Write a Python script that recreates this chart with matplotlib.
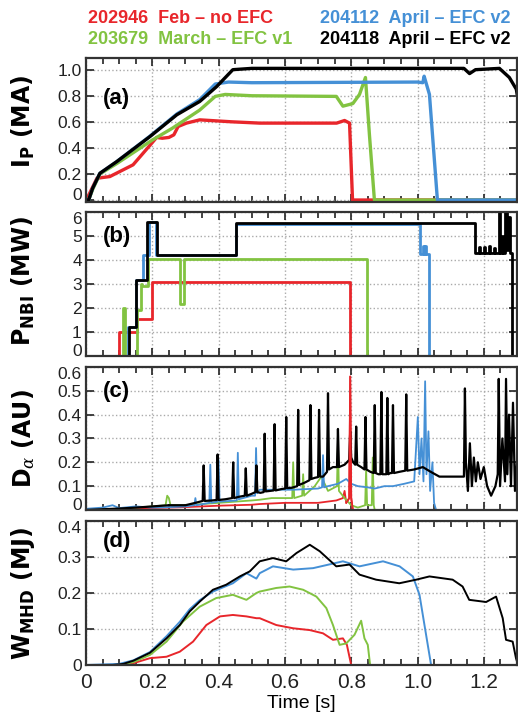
import matplotlib
matplotlib.use('Agg')
import matplotlib.pyplot as plt
from matplotlib.ticker import MultipleLocator

# --- fonts ---
plt.rcParams['font.family'] = ['Liberation Sans', 'DejaVu Sans']
plt.rcParams['mathtext.fontset'] = 'custom'
plt.rcParams['mathtext.rm'] = 'DejaVu Sans:bold'
plt.rcParams['mathtext.bf'] = 'DejaVu Sans:bold'
plt.rcParams['mathtext.it'] = 'DejaVu Serif:italic'

# --- colours / shots ---
RED, GREEN, BLUE, BLACK = '#e8262b', '#82c341', '#4590d6', '#000000'
legend_left = [('202946  Feb \u2013 no EFC', RED), ('203679  March \u2013 EFC v1', GREEN)]
legend_right = [('204112  April \u2013 EFC v2', BLUE), ('204118  April \u2013 EFC v2', BLACK)]

# --- (a) plasma current ---
ip_red_t = [0, 0.006, 0.033, 0.072, 0.142, 0.193, 0.213, 0.23, 0.25, 0.265, 0.278, 0.303, 0.343, 0.44, 0.524, 0.756, 0.78, 0.795, 0.804, 1.3]
ip_red = [0, 0.026, 0.167, 0.18, 0.27, 0.42, 0.48, 0.474, 0.48, 0.50, 0.564, 0.59, 0.615, 0.60, 0.59, 0.59, 0.61, 0.59, 0.0, 0.0]
ip_green_t = [0, 0.008, 0.02, 0.042, 0.093, 0.2, 0.26, 0.343, 0.39, 0.42, 0.5, 0.755, 0.775, 0.805, 0.825, 0.843, 0.855, 0.87, 1.3]
ip_green = [0, 0.0, 0.08, 0.2, 0.28, 0.46, 0.55, 0.69, 0.795, 0.81, 0.80, 0.795, 0.72, 0.74, 0.81, 0.94, 0.5, 0.0, 0.0]
ip_blue_t = [0, 0.008, 0.02, 0.042, 0.093, 0.193, 0.274, 0.343, 0.39, 0.43, 0.5, 1.0, 1.016, 1.02, 1.036, 1.06, 1.3]
ip_blue = [0, 0.0, 0.09, 0.205, 0.295, 0.49, 0.66, 0.77, 0.89, 0.905, 0.90, 0.905, 0.90, 0.95, 0.81, 0.0, 0.0]
ip_black_t = [0, 0.008, 0.02, 0.042, 0.093, 0.193, 0.274, 0.343, 0.394, 0.443, 0.5, 0.8, 1.14, 1.157, 1.175, 1.247, 1.277, 1.298, 1.3]
ip_black = [0, 0.0, 0.09, 0.205, 0.295, 0.487, 0.654, 0.756, 0.87, 1.0, 1.01, 1.01, 1.01, 0.97, 1.0, 1.01, 0.94, 0.85, 0.82]

# --- (b) NBI power (steps) ---
nbi_red_t = [0, 0.100, 0.155, 0.200, 0.795, 1.3]
nbi_red = [0, 1.0, 1.53, 3.1, 0, 0]
nbi_green_t = [0, 0.112, 0.118, 0.155, 0.165, 0.170, 0.188, 0.283, 0.295, 0.847, 1.3]
nbi_green = [0, 2.0, 0, 1.9, 3.0, 2.9, 4.05, 2.15, 4.05, 0, 0]
nbi_blue_t = [0, 0.127, 0.150, 0.172, 0.191, 0.211, 0.452, 1.008, 1.016, 1.019, 1.024, 1.027, 1.036, 1.3]
nbi_blue = [0, 1.2, 3.17, 4.2, 5.6, 4.2, 5.5, 4.25, 4.6, 4.25, 4.6, 4.25, 0, 0]
nbi_black_t = [0, 0.130, 0.150, 0.185, 0.213, 0.452, 1.172, 1.185, 1.188, 1.200, 1.203, 1.215, 1.218, 1.230,
               1.233, 1.245, 1.249, 1.256, 1.259, 1.265, 1.269, 1.274, 1.278, 1.285, 1.3]
nbi_black = [0, 1.2, 3.15, 5.6, 4.2, 5.55, 4.3, 4.55, 4.3, 4.55, 4.3, 4.6, 4.3, 4.5,
             4.3, 6.0, 4.3, 5.0, 4.3, 6.0, 4.4, 5.8, 4.3, 0, 0]

# --- (c) D-alpha ---
da_red_t = [0, 0.1, 0.2, 0.3, 0.4, 0.5, 0.524, 0.6, 0.7, 0.755, 0.775, 0.78, 0.785, 0.794, 0.797, 0.80, 0.805, 1.3]
da_red = [0, 0.005, 0.008, 0.012, 0.018, 0.022, 0.025, 0.03, 0.03, 0.04, 0.05, 0.08, 0.03, 0.05, 0.56, 0.05, 0.0, 0.0]
da_green_t = [0, 0.1, 0.15, 0.2, 0.24, 0.245, 0.25, 0.255, 0.3, 0.35, 0.4, 0.45, 0.5, 0.524, 0.56, 0.6, 0.622,
              0.625, 0.628, 0.652, 0.655, 0.658, 0.69, 0.71, 0.73, 0.757, 0.76, 0.763, 0.78, 0.8, 0.82, 0.842,
              0.845, 0.848, 0.862, 0.865, 0.868, 0.871, 1.3]
da_green = [0, 0.005, 0.01, 0.015, 0.02, 0.06, 0.05, 0.02, 0.02, 0.025, 0.03, 0.035, 0.04, 0.043, 0.05, 0.05, 0.05,
            0.2, 0.05, 0.06, 0.15, 0.06, 0.1, 0.14, 0.08, 0.1, 0.28, 0.08, 0.05, 0.02, 0.01, 0.02,
            0.17, 0.02, 0.02, 0.22, 0.02, 0.0, 0.0]
da_blue_t = [0, 0.05, 0.08, 0.1, 0.15, 0.2, 0.25, 0.3, 0.327, 0.33, 0.333, 0.372, 0.375, 0.378, 0.397, 0.40, 0.403,
             0.455, 0.458, 0.461, 0.5, 0.51, 0.513, 0.516, 0.524, 0.58, 0.625, 0.70, 0.712, 0.715, 0.718, 0.73,
             0.76, 0.785, 0.8, 0.82, 0.85, 0.871, 0.9, 0.926, 0.96, 0.99, 1.001, 1.006, 1.012, 1.018, 1.023,
             1.027, 1.033, 1.038, 1.045, 1.05, 1.056, 1.3]
da_blue = [0.005, 0.01, 0.02, 0.008, 0.015, 0.01, 0.012, 0.015, 0.02, 0.05, 0.02, 0.03, 0.19, 0.03, 0.035, 0.21, 0.035,
           0.04, 0.24, 0.045, 0.06, 0.06, 0.26, 0.07, 0.085, 0.085, 0.085, 0.09, 0.095, 0.23, 0.095, 0.1,
           0.11, 0.13, 0.11, 0.1, 0.095, 0.09, 0.1, 0.1, 0.11, 0.12, 0.39, 0.15, 0.3, 0.12, 0.54,
           0.15, 0.33, 0.08, 0.2, 0.03, 0.0, 0.0]
da_black_t = [0.0, 0.05, 0.1, 0.15, 0.2, 0.25, 0.3, 0.33, 0.352, 0.355, 0.358, 0.38, 0.394, 0.397, 0.40, 0.42,
              0.441, 0.444, 0.447, 0.46, 0.479, 0.482, 0.485, 0.50, 0.511, 0.514, 0.517, 0.526, 0.536, 0.539,
              0.542, 0.555, 0.566, 0.569, 0.572, 0.59, 0.601, 0.604, 0.607, 0.62, 0.637, 0.64, 0.643, 0.66,
              0.674, 0.677, 0.68, 0.69, 0.700, 0.703, 0.706, 0.715, 0.727, 0.73, 0.733, 0.745, 0.757, 0.76,
              0.763, 0.78, 0.794, 0.797, 0.80, 0.806, 0.812, 0.815, 0.818, 0.83, 0.840, 0.843, 0.846, 0.858,
              0.868, 0.871, 0.874, 0.882, 0.888, 0.891, 0.894, 0.90, 0.906, 0.909, 0.912, 0.918, 0.923, 0.926,
              0.929, 0.945, 0.963, 0.966, 0.969, 0.99, 1.016, 1.04, 1.066, 1.1, 1.126, 1.14, 1.143, 1.146,
              1.152, 1.158, 1.164, 1.17, 1.176, 1.182, 1.19, 1.2, 1.21, 1.222, 1.235, 1.242, 1.245, 1.249,
              1.256, 1.264, 1.267, 1.271, 1.276, 1.282, 1.288, 1.294, 1.3]
da_black = [0.0, 0.003, 0.006, 0.01, 0.015, 0.02, 0.02, 0.03, 0.038, 0.187, 0.038, 0.04, 0.042, 0.233, 0.042, 0.045,
            0.05, 0.2, 0.05, 0.055, 0.06, 0.175, 0.06, 0.068, 0.075, 0.187, 0.075, 0.072, 0.075, 0.32,
            0.078, 0.08, 0.082, 0.36, 0.082, 0.088, 0.09, 0.39, 0.092, 0.093, 0.1, 0.42, 0.105, 0.115,
            0.125, 0.44, 0.13, 0.135, 0.138, 0.42, 0.14, 0.14, 0.16, 0.49, 0.17, 0.18, 0.18, 0.34,
            0.18, 0.19, 0.21, 0.33, 0.22, 0.2, 0.19, 0.35, 0.19, 0.18, 0.17, 0.39, 0.17, 0.16,
            0.155, 0.44, 0.155, 0.15, 0.15, 0.495, 0.15, 0.15, 0.15, 0.47, 0.15, 0.155, 0.155, 0.44,
            0.155, 0.16, 0.165, 0.485, 0.165, 0.17, 0.18, 0.16, 0.14, 0.14, 0.14, 0.14, 0.51, 0.2,
            0.08, 0.28, 0.1, 0.22, 0.12, 0.2, 0.13, 0.18, 0.1, 0.06, 0.1, 0.15, 0.55, 0.1,
            0.3, 0.12, 0.55, 0.15, 0.4, 0.1, 0.45, 0.08, 0.2]

# --- (d) stored energy ---
w_red_t = [0, 0.12, 0.143, 0.193, 0.243, 0.283, 0.323, 0.363, 0.404, 0.443, 0.484, 0.514, 0.524, 0.574, 0.625,
           0.675, 0.715, 0.745, 0.775, 0.787, 0.8]
w_red = [0, 0.0, 0.005, 0.019, 0.023, 0.037, 0.065, 0.111, 0.135, 0.139, 0.135, 0.13, 0.13, 0.111, 0.102,
         0.097, 0.088, 0.07, 0.074, 0.056, 0.0]
w_green_t = [0, 0.1, 0.143, 0.193, 0.243, 0.293, 0.343, 0.393, 0.443, 0.484, 0.514, 0.524, 0.574, 0.614, 0.655,
             0.695, 0.725, 0.745, 0.765, 0.785, 0.81, 0.83, 0.84, 0.85, 0.857]
w_green = [0, 0.0, 0.008, 0.028, 0.065, 0.121, 0.162, 0.186, 0.195, 0.181, 0.2, 0.204, 0.214, 0.218, 0.209,
           0.19, 0.158, 0.111, 0.056, 0.06, 0.084, 0.123, 0.074, 0.056, 0.0]
w_blue_t = [0, 0.1, 0.143, 0.193, 0.243, 0.283, 0.313, 0.343, 0.383, 0.443, 0.484, 0.514, 0.524, 0.564, 0.625,
            0.685, 0.775, 0.825, 0.896, 0.946, 0.986, 1.006, 1.021, 1.041]
w_blue = [0, 0.003, 0.013, 0.036, 0.08, 0.12, 0.155, 0.18, 0.204, 0.227, 0.255, 0.24, 0.255, 0.274, 0.265,
          0.269, 0.288, 0.274, 0.288, 0.274, 0.246, 0.195, 0.111, 0.0]
w_black_t = [0, 0.08, 0.112, 0.143, 0.193, 0.243, 0.283, 0.313, 0.343, 0.383, 0.423, 0.464, 0.494, 0.524, 0.564,
             0.604, 0.635, 0.675, 0.705, 0.755, 0.795, 0.825, 0.875, 0.945, 0.996, 1.036, 1.106, 1.136, 1.156,
             1.207, 1.237, 1.257, 1.267, 1.287, 1.297, 1.3]
w_black = [0, 0.0, 0.003, 0.012, 0.034, 0.074, 0.111, 0.149, 0.176, 0.209, 0.223, 0.246, 0.26, 0.288, 0.297,
           0.288, 0.311, 0.334, 0.316, 0.274, 0.279, 0.251, 0.237, 0.227, 0.237, 0.246, 0.237, 0.218, 0.181,
           0.175, 0.19, 0.13, 0.07, 0.065, 0.019, 0.01]

# --- axes text ---
ylabels = [r'$\mathbf{I_P}$ (MA)', r'$\mathbf{P_{NBI}}$ (MW)', r'$\mathbf{D}_{\alpha}$ (AU)', r'$\mathbf{W_{MHD}}$ (MJ)']
letters = ['(a)', '(b)', '(c)', '(d)']
x_ticks = [0, 0.2, 0.4, 0.6, 0.8, 1.0, 1.2]
x_ticklabels = ['0', '0.2', '0.4', '0.6', '0.8', '1.0', '1.2']
y_ticks = [[0, 0.2, 0.4, 0.6, 0.8, 1.0], [0, 1, 2, 3, 4, 5, 6],
           [0, 0.1, 0.2, 0.3, 0.4, 0.5, 0.6], [0, 0.1, 0.2, 0.3, 0.4]]
y_ticklabels = [['0', '0.2', '0.4', '0.6', '0.8', '1.0'], ['0', '1', '2', '3', '4', '5', '6'],
                ['0', '0.1', '0.2', '0.3', '0.4', '0.5', '0.6'], ['0', '0.1', '0.2', '0.3', '0.4']]
y_lims = [(-0.015, 1.09), (0, 6), (0, 0.6), (0, 0.4)]

# --- layout ---
fig = plt.figure(figsize=(5.18, 7.18), dpi=100)
L, W = 0.166, 0.832
bottoms = [0.7187, 0.5042, 0.2897, 0.0738]
heights = [0.2006, 0.2006, 0.1992, 0.2006]
letter_y = [0.72, 0.83, 0.83, 0.855]
label_y = [0.56, 0.52, 0.5, 0.5]

axes = [fig.add_axes([L, b, W, h]) for b, h in zip(bottoms, heights)]

series = [
    [(ip_red_t, ip_red, RED), (ip_green_t, ip_green, GREEN), (ip_blue_t, ip_blue, BLUE), (ip_black_t, ip_black, BLACK)],
    [(nbi_red_t, nbi_red, RED), (nbi_green_t, nbi_green, GREEN), (nbi_blue_t, nbi_blue, BLUE), (nbi_black_t, nbi_black, BLACK)],
    [(da_red_t, da_red, RED), (da_green_t, da_green, GREEN), (da_blue_t, da_blue, BLUE), (da_black_t, da_black, BLACK)],
    [(w_red_t, w_red, RED), (w_green_t, w_green, GREEN), (w_blue_t, w_blue, BLUE), (w_black_t, w_black, BLACK)],
]
widths = [2.4, 2.0, 1.3, 1.4]

for i, ax in enumerate(axes):
    for t, v, c in series[i]:
        lw = widths[i]
        if i == 2 and c == BLACK:
            lw = 1.6
        if i == 1:
            ax.plot(t, v, color=c, lw=lw, drawstyle='steps-post')
        else:
            ax.plot(t, v, color=c, lw=lw)
    # D-alpha: red spike on top
    if i == 2:
        ax.plot(da_red_t[12:17], da_red[12:17], color=RED, lw=1.3)

    ax.set_xlim(0, 1.3)
    ax.set_ylim(*y_lims[i])
    ax.set_xticks(x_ticks)
    ax.xaxis.set_minor_locator(MultipleLocator(0.05))
    ax.set_yticks(y_ticks[i])
    labs = ax.set_yticklabels(y_ticklabels[i], fontsize=12.5, color='#222222')
    if i < 3:
        labs[0].set_va('baseline')
    if i > 0:
        labs[-1].set_va('top')
    if i == 3:
        ax.set_xticklabels(x_ticklabels, fontsize=15, color='#222222')
        ax.set_xlabel('Time [s]', fontsize=14, labelpad=2)
    else:
        ax.set_xticklabels([])
    ax.tick_params(which='both', direction='in', top=True, right=True, width=1.2, color='#222222')
    ax.tick_params(which='major', length=6, pad=3)
    ax.tick_params(axis='x', which='major', pad=6)
    ax.tick_params(which='minor', length=4)
    ax.grid(True, which='major', linestyle=':', color='#aaaaaa', lw=1.0)
    ax.set_axisbelow(True)
    for s in ax.spines.values():
        s.set_linewidth(1.6)
        s.set_color('#333333')

    ax.set_ylabel(ylabels[i], fontsize=17, fontweight='bold', family='DejaVu Sans')
    ax.yaxis.set_label_coords(-0.114, label_y[i])
    ax.text(0.04, letter_y[i], letters[i], transform=ax.transAxes, fontsize=16,
            fontweight='bold', ha='left', va='center')

# --- shot legend at top ---
for j, (txt, c) in enumerate(legend_left):
    fig.text(0.17, 0.974 - j * 0.029, txt, color=c, fontsize=13, fontweight='bold', ha='left', va='center')
for j, (txt, c) in enumerate(legend_right):
    fig.text(0.618, 0.974 - j * 0.029, txt, color=c, fontsize=13, fontweight='bold', ha='left', va='center')

fig.savefig('out.png', dpi=100)
